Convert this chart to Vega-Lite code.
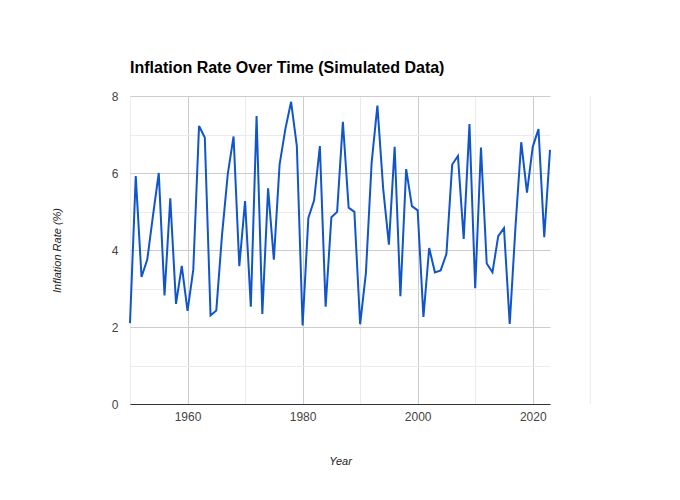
{
  "$schema": "https://vega.github.io/schema/vega-lite/v6.json",
  "width": 420,
  "height": 308,
  "autosize": {"type": "none"},
  "padding": {"left": 130, "top": 96, "right": 130, "bottom": 96},
  "background": "white",
  "config": {"view": {"stroke": null}, "font": "Liberation Sans"},
  "title": {"text": "Inflation Rate Over Time (Simulated Data)", "anchor": "start", "frame": "group", "font": "Liberation Sans", "fontSize": 16, "fontWeight": "bold", "color": "#000000", "baseline": "alphabetic", "offset": 1},
  "data": {"values": [
    {"year": 1950, "rate": 2.1}, {"year": 1951, "rate": 5.92}, {"year": 1952, "rate": 3.3}, {"year": 1953, "rate": 3.75},
    {"year": 1954, "rate": 4.9}, {"year": 1955, "rate": 6.0}, {"year": 1956, "rate": 2.82}, {"year": 1957, "rate": 5.34},
    {"year": 1958, "rate": 2.6}, {"year": 1959, "rate": 3.59}, {"year": 1960, "rate": 2.42}, {"year": 1961, "rate": 3.49},
    {"year": 1962, "rate": 7.22}, {"year": 1963, "rate": 6.92}, {"year": 1964, "rate": 2.3}, {"year": 1965, "rate": 2.43},
    {"year": 1966, "rate": 4.4}, {"year": 1967, "rate": 5.98}, {"year": 1968, "rate": 6.95}, {"year": 1969, "rate": 3.58},
    {"year": 1970, "rate": 5.27}, {"year": 1971, "rate": 2.53}, {"year": 1972, "rate": 7.48}, {"year": 1973, "rate": 2.34},
    {"year": 1974, "rate": 5.6}, {"year": 1975, "rate": 3.75}, {"year": 1976, "rate": 6.22}, {"year": 1977, "rate": 7.14},
    {"year": 1978, "rate": 7.85}, {"year": 1979, "rate": 6.7}, {"year": 1980, "rate": 2.04}, {"year": 1981, "rate": 4.83},
    {"year": 1982, "rate": 5.29}, {"year": 1983, "rate": 6.7}, {"year": 1984, "rate": 2.53}, {"year": 1985, "rate": 4.85},
    {"year": 1986, "rate": 4.99}, {"year": 1987, "rate": 7.33}, {"year": 1988, "rate": 5.1}, {"year": 1989, "rate": 4.99},
    {"year": 1990, "rate": 2.07}, {"year": 1991, "rate": 3.4}, {"year": 1992, "rate": 6.27}, {"year": 1993, "rate": 7.75},
    {"year": 1994, "rate": 5.6}, {"year": 1995, "rate": 4.14}, {"year": 1996, "rate": 6.68}, {"year": 1997, "rate": 2.8},
    {"year": 1998, "rate": 6.1}, {"year": 1999, "rate": 5.14}, {"year": 2000, "rate": 5.03}, {"year": 2001, "rate": 2.26},
    {"year": 2002, "rate": 4.05}, {"year": 2003, "rate": 3.42}, {"year": 2004, "rate": 3.47}, {"year": 2005, "rate": 3.9},
    {"year": 2006, "rate": 6.22}, {"year": 2007, "rate": 6.44}, {"year": 2008, "rate": 4.29}, {"year": 2009, "rate": 7.27},
    {"year": 2010, "rate": 3.01}, {"year": 2011, "rate": 6.66}, {"year": 2012, "rate": 3.65}, {"year": 2013, "rate": 3.42},
    {"year": 2014, "rate": 4.36}, {"year": 2015, "rate": 4.57}, {"year": 2016, "rate": 2.08}, {"year": 2017, "rate": 4.6},
    {"year": 2018, "rate": 6.8}, {"year": 2019, "rate": 5.49}, {"year": 2020, "rate": 6.68}, {"year": 2021, "rate": 7.14},
    {"year": 2022, "rate": 4.33}, {"year": 2023, "rate": 6.6}
  ]},
  "layer": [
    {
      "mark": {"type": "line", "opacity": 0},
      "encoding": {
        "x": {"field": "year", "type": "quantitative", "scale": {"domain": [1950, 2023], "nice": false, "zero": false},
          "axis": {"orient": "bottom", "values": [1950, 1970, 1990, 2010], "labels": false, "ticks": false, "domain": false, "grid": true, "gridColor": "#ebebeb", "gridWidth": 1, "title": null}},
        "y": {"field": "rate", "type": "quantitative", "scale": {"domain": [0, 8], "nice": false},
          "axis": {"orient": "left", "values": [1, 3, 5, 7], "labels": false, "ticks": false, "domain": false, "grid": true, "gridColor": "#ebebeb", "gridWidth": 1, "title": null}}
      }
    },
    {
      "data": {"values": [{"gridYear": 2030}]},
      "mark": {"type": "rule", "color": "#ebebeb", "strokeWidth": 1, "clip": false},
      "encoding": {
        "x": {"field": "gridYear", "type": "quantitative", "axis": null}
      }
    },
    {
      "mark": {"type": "line", "color": "#1155cc", "strokeWidth": 2, "strokeJoin": "miter"},
      "encoding": {
        "x": {"field": "year", "type": "quantitative", "scale": {"domain": [1950, 2023], "nice": false, "zero": false},
          "axis": {"orient": "bottom", "values": [1960, 1980, 2000, 2020], "format": "d", "ticks": false, "domain": true, "domainColor": "#333333", "domainWidth": 1, "grid": true, "gridColor": "#cccccc", "gridWidth": 1,
            "labelFont": "Liberation Sans", "labelFontSize": 12, "labelColor": "#444444", "labelPadding": 7,
            "title": "Year", "titleFont": "Liberation Sans", "titleFontSize": 11, "titleFontStyle": "italic", "titleFontWeight": "normal", "titleColor": "#222222", "titleY": 57, "titleBaseline": "middle"}},
        "y": {"field": "rate", "type": "quantitative", "scale": {"domain": [0, 8], "nice": false},
          "axis": {"orient": "left", "values": [0, 2, 4, 6, 8], "ticks": false, "domain": false, "grid": true, "gridColor": "#cccccc", "gridWidth": 1,
            "labelFont": "Liberation Sans", "labelFontSize": 12, "labelColor": "#444444", "labelPadding": 12,
            "title": "Inflation Rate (%)", "titleFont": "Liberation Sans", "titleFontSize": 11, "titleFontStyle": "italic", "titleFontWeight": "normal", "titleColor": "#222222", "titleX": -73, "titleY": 154, "titleAngle": -90, "titleAlign": "center", "titleBaseline": "middle"}}
      }
    }
  ],
  "resolve": {"axis": {"x": "independent", "y": "independent"}}
}
